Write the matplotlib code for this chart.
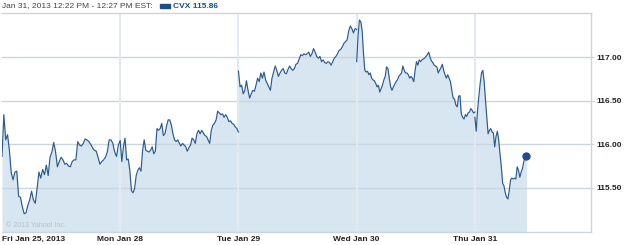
import numpy as np
import matplotlib
matplotlib.use("Agg")
import matplotlib.pyplot as plt
from matplotlib.patches import Rectangle

# ---------------- data ----------------
day_labels = ["Fri Jan 25, 2013", "Mon Jan 28", "Tue Jan 29", "Wed Jan 30", "Thu Jan 31"]
day_open = ["09:30", "09:30", "09:30", "09:30", "09:30"]
day_close = ["16:00", "16:00", "16:00", "16:00", "12:20"]

fri = [115.86, 116.34, 116.05, 116.11, 115.93, 115.67, 115.59, 115.68, 115.69, 115.40,
       115.39, 115.28, 115.20, 115.21, 115.30, 115.36, 115.46, 115.36, 115.32, 115.49,
       115.68, 115.61, 115.71, 115.65, 115.76, 115.64, 115.85, 115.91, 116.02, 115.91,
       115.74, 115.80, 115.85, 115.82, 115.77, 115.78, 115.75, 115.74, 115.80, 115.82,
       115.82, 116.03, 115.99, 115.98, 116.01, 116.06, 116.05, 116.03, 116.00, 115.96,
       115.93, 115.92, 115.85, 115.77, 115.80, 115.82, 115.85, 115.91, 116.05, 116.05,
       116.01, 115.91, 115.86, 115.99, 116.04]
mon = [116.03, 115.80, 115.97, 116.07, 115.82, 115.83, 115.70, 115.47, 115.44, 115.49,
       115.64, 115.70, 115.73, 115.69, 115.93, 116.05, 115.93, 115.92, 115.91, 115.93,
       115.97, 115.89, 115.92, 116.18, 116.16, 116.18, 116.24, 116.10, 116.12, 116.21,
       116.28, 116.28, 116.22, 116.12, 116.05, 116.03, 116.05, 116.01, 115.98, 116.01,
       115.99, 115.97, 115.92, 115.96, 115.99, 116.07, 116.05, 116.01, 116.12, 116.16,
       116.12, 116.16, 116.13, 116.10, 116.09, 116.05, 116.01, 116.16, 116.22, 116.24,
       116.28, 116.38, 116.36, 116.34, 116.35, 116.31, 116.34, 116.31, 116.26, 116.27,
       116.24, 116.23, 116.20, 116.18, 116.14]
tue = [116.84, 116.66, 116.68, 116.58, 116.62, 116.73, 116.62, 116.53, 116.58, 116.62,
       116.61, 116.68, 116.76, 116.72, 116.82, 116.76, 116.83, 116.74, 116.70, 116.66,
       116.62, 116.76, 116.83, 116.90, 116.85, 116.78, 116.82, 116.85, 116.87, 116.82,
       116.81, 116.86, 116.90, 116.87, 116.85, 116.87, 116.92, 116.93, 116.98, 117.03,
       117.02, 117.04, 117.03, 117.04, 117.06, 117.01, 117.04, 117.10, 117.06, 117.01,
       116.99, 117.01, 116.95, 116.97, 116.94, 116.93, 116.95, 116.94, 116.91, 116.95,
       116.99, 117.01, 117.04, 117.08, 117.09, 117.12, 117.16, 117.18, 117.20, 117.30,
       117.36, 117.33, 117.28, 117.33, 117.32]
wed = [116.95, 117.24, 117.43, 117.41, 117.31, 117.05, 116.85, 116.83, 116.84, 116.80,
       116.82, 116.76, 116.74, 116.73, 116.70, 116.66, 116.68, 116.60, 116.64, 116.68,
       116.74, 116.78, 116.89, 116.87, 116.76, 116.66, 116.62, 116.66, 116.69, 116.72,
       116.74, 116.78, 116.80, 116.82, 116.90, 116.85, 116.82, 116.82, 116.80, 116.76,
       116.78, 116.76, 116.72, 116.85, 116.95, 116.91, 116.97, 116.95, 116.97, 116.98,
       116.99, 117.01, 117.03, 117.06, 117.00, 116.96, 116.94, 116.91, 116.90, 116.89,
       116.82, 116.85, 116.88, 116.92, 116.85, 116.80, 116.76, 116.80, 116.76, 116.72,
       116.62, 116.53, 116.52, 116.45, 116.43, 116.55, 116.56, 116.35, 116.31, 116.29,
       116.34, 116.32, 116.36, 116.37, 116.41, 116.39, 116.36, 116.37]
thu = [116.31, 116.15, 116.39, 116.55, 116.70, 116.82, 116.85, 116.72, 116.51, 116.31,
       116.12, 116.16, 116.18, 116.14, 116.13, 115.97, 116.09, 116.15, 116.05, 115.89,
       115.74, 115.55, 115.52, 115.44, 115.39, 115.37, 115.47, 115.59, 115.61, 115.60,
       115.61, 115.60, 115.74, 115.70, 115.62, 115.68, 115.72, 115.80, 115.85, 115.86]

y_ticks = [115.50, 116.00, 116.50, 117.00]
y_min, y_max = 114.99, 117.51
last_price = 115.86
symbol = "CVX"
title_text = "Jan 31, 2013 12:22 PM - 12:27 PM EST:"
copyright_text = "\u00a9 2013 Yahoo! Inc."

# ---------------- style ----------------
LINE = "#2b5a8e"
FILL = "#d7e6f1"
GRID = "#c9d6e0"
VGRID = "#e3eaef"
TXT = "#222222"
FONT = "Liberation Sans"


def minutes(hhmm):
    h, m = hhmm.split(":")
    return int(h) * 60 + int(m)


session = minutes("16:00") - minutes("09:30")

fig = plt.figure(figsize=(6.25, 2.45), dpi=100)
ax = fig.add_axes([2 / 625, 13 / 245, 589 / 625, 219 / 245])

days = [fri, mon, tue, wed, thu]
last_t = None
for d, vals in enumerate(days):
    start = d * session
    t = start + np.linspace(0, minutes(day_close[d]) - minutes(day_open[d]), len(vals))
    ax.fill_between(t, vals, y_min, color=FILL, lw=0, zorder=1)
    ax.plot(t, vals, color=LINE, lw=0.85, zorder=3, solid_joinstyle="round")
    last_t = t[-1]

ax.plot([last_t], [last_price], "o", color="#1f4f86", ms=5, zorder=4)

for d in range(1, 5):
    ax.axvline(d * session, color=VGRID, lw=1.4, zorder=2)

ax.set_xlim(0, 1943)
ax.set_ylim(y_min, y_max)
ax.set_yticks(y_ticks)
ax.set_yticklabels([f"{v:.2f}" for v in y_ticks], fontfamily=FONT, fontsize=6,
                   fontweight="bold", color=TXT)
ax.yaxis.tick_right()
ax.tick_params(axis="y", length=2, color=GRID, pad=2)
ax.set_axisbelow("line")
ax.grid(axis="y", color=GRID, lw=1.0)

ax.set_xticks([d * session for d in range(5)])
ax.set_xticklabels(day_labels, fontfamily=FONT, fontsize=6, fontweight="bold", color=TXT)
ax.get_xticklabels()[0].set_horizontalalignment("left")
ax.tick_params(axis="x", length=0, pad=3)

for s in ["top", "right", "bottom"]:
    ax.spines[s].set_color(GRID)
    ax.spines[s].set_linewidth(1.0)
ax.spines["left"].set_visible(False)

ax.text(0.006, 0.025, copyright_text, transform=ax.transAxes, fontsize=5,
        fontfamily=FONT, color="#b3c2cc", zorder=5)

# header
fig.text(2 / 625, 1 - 6 / 245, title_text, fontfamily=FONT, fontsize=6,
         color="#444444", va="center", ha="left")
fig.patches.append(Rectangle((160 / 625, 1 - 8.5 / 245), 10 / 625, 4 / 245,
                             transform=fig.transFigure, color="#1d4e89"))
fig.text(173 / 625, 1 - 6 / 245, f"{symbol} {last_price:.2f}", fontfamily=FONT,
         fontsize=6, fontweight="bold", color="#1d4e89", va="center", ha="left")

fig.savefig("out.png", dpi=100)
